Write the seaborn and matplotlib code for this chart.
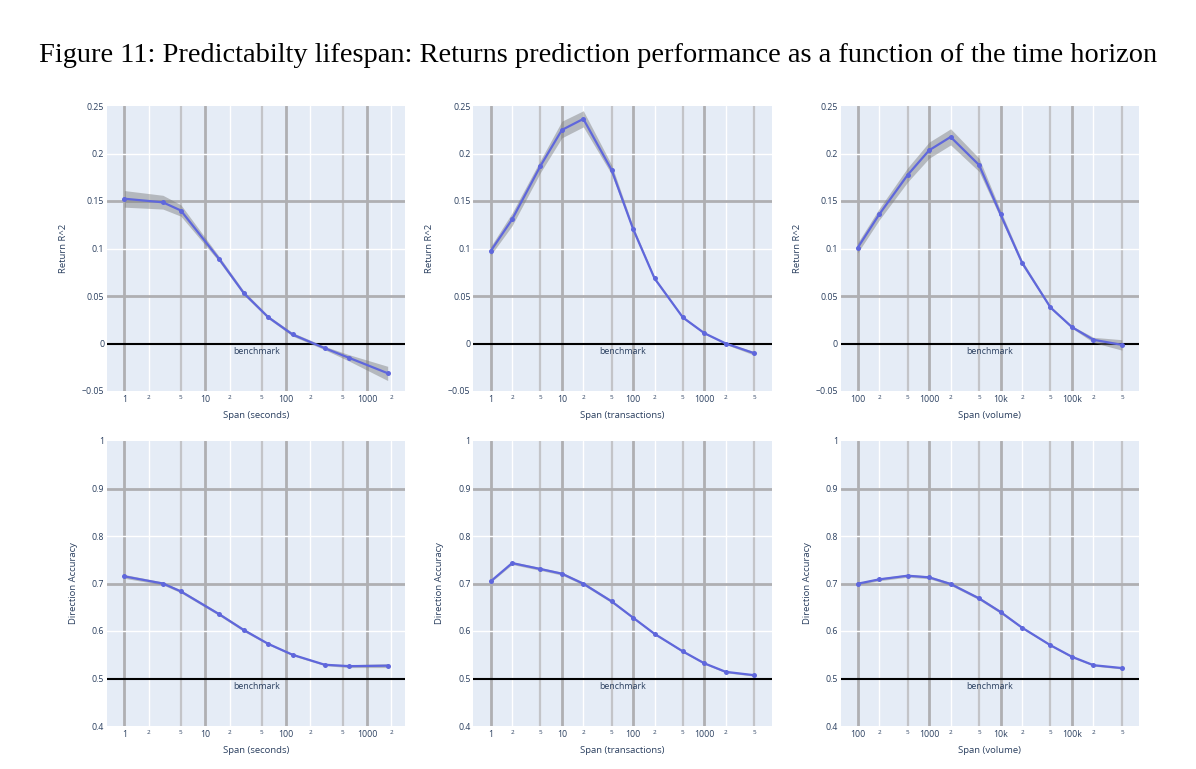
import numpy as np
import pandas as pd
import matplotlib
matplotlib.use("Agg")
import matplotlib.pyplot as plt
import matplotlib.transforms as mtransforms
import seaborn as sns

# ---------------- data ----------------
sec_x = [1, 3, 5, 15, 30, 60, 120, 300, 600, 1800]
sec_r2 = [0.1524, 0.1486, 0.1400, 0.0885, 0.0530, 0.0277, 0.0095, -0.0049, -0.0151, -0.0313]
sec_r2_lo = [0.1435, 0.1415, 0.1340, 0.0858, 0.0510, 0.0262, 0.0078, -0.0066, -0.0185, -0.0390]
sec_r2_hi = [0.1610, 0.1560, 0.1460, 0.0912, 0.0552, 0.0293, 0.0115, -0.0030, -0.0118, -0.0240]
sec_acc = [0.715, 0.700, 0.6834, 0.635, 0.602, 0.573, 0.550, 0.529, 0.526, 0.527]
sec_acc_err = [0.004, 0.003, 0.003, 0.003, 0.003, 0.002, 0.002, 0.002, 0.003, 0.004]

tx_x = [1, 2, 5, 10, 20, 50, 100, 200, 500, 1000, 2000, 5000]
tx_r2 = [0.0973, 0.1307, 0.1869, 0.2248, 0.2364, 0.1826, 0.1205, 0.0685, 0.0274, 0.0109, 0.0, -0.0102]
tx_r2_lo = [0.0930, 0.1240, 0.1800, 0.2165, 0.2280, 0.1780, 0.1180, 0.0668, 0.0262, 0.0100, -0.0010, -0.0122]
tx_r2_hi = [0.1020, 0.1375, 0.1930, 0.2340, 0.2450, 0.1880, 0.1232, 0.0702, 0.0286, 0.0118, 0.0010, -0.0085]
tx_acc = [0.7045, 0.743, 0.7305, 0.7207, 0.6996, 0.6623, 0.628, 0.594, 0.557, 0.532, 0.514, 0.507]
tx_acc_err = [0.002, 0.003, 0.003, 0.003, 0.003, 0.003, 0.002, 0.002, 0.002, 0.002, 0.002, 0.002]

vol_x = [100, 200, 500, 1000, 2000, 5000, 10000, 20000, 50000, 100000, 200000, 500000]
vol_r2 = [0.1008, 0.1359, 0.1774, 0.2034, 0.2174, 0.1879, 0.1359, 0.0850, 0.0379, 0.0172, 0.0039, -0.0014]
vol_r2_lo = [0.0955, 0.1300, 0.1700, 0.1950, 0.2090, 0.1810, 0.1320, 0.0825, 0.0365, 0.0160, 0.0010, -0.0070]
vol_r2_hi = [0.1060, 0.1420, 0.1850, 0.2120, 0.2260, 0.1950, 0.1400, 0.0875, 0.0393, 0.0185, 0.0065, 0.0040]
vol_acc = [0.6996, 0.7087, 0.7164, 0.713, 0.699, 0.6687, 0.640, 0.607, 0.570, 0.5457, 0.528, 0.522]
vol_acc_err = [0.002, 0.003, 0.003, 0.003, 0.003, 0.003, 0.003, 0.002, 0.002, 0.002, 0.002, 0.002]

sec_ticks = [1, 2, 5, 10, 20, 50, 100, 200, 500, 1000, 2000]
sec_ticklabels = ["1", "2", "5", "10", "2", "5", "100", "2", "5", "1000", "2"]
tx_ticks = [1, 2, 5, 10, 20, 50, 100, 200, 500, 1000, 2000, 5000]
tx_ticklabels = ["1", "2", "5", "10", "2", "5", "100", "2", "5", "1000", "2", "5"]
vol_ticks = [100, 200, 500, 1000, 2000, 5000, 10000, 20000, 50000, 100000, 200000, 500000]
vol_ticklabels = ["100", "2", "5", "1000", "2", "5", "10k", "2", "5", "100k", "2", "5"]

r2_ticks = [-0.05, 0, 0.05, 0.1, 0.15, 0.2, 0.25]
r2_ticklabels = ["\u22120.05", "0", "0.05", "0.1", "0.15", "0.2", "0.25"]
r2_graylines = [0.05, 0.15]
acc_ticks = [0.4, 0.5, 0.6, 0.7, 0.8, 0.9, 1.0]
acc_ticklabels = ["0.4", "0.5", "0.6", "0.7", "0.8", "0.9", "1"]
acc_graylines = [0.7, 0.9]

x_titles = ["Span (seconds)", "Span (transactions)", "Span (volume)"]
title = "Figure 11: Predictabilty lifespan: Returns prediction performance as a function of the time horizon"

# ---------------- style ----------------
sns.set_theme(style="white")
plt.rcParams["font.family"] = ["Open Sans", "DejaVu Sans"]

BG = "#E5ECF6"
TXT = "#2a3f5f"
LINE = "#5f67dc"
GRAY_MAJ = "#afafb2"
GRAY_5 = "#c3c4c8"

fig = plt.figure(figsize=(11.96, 7.69), dpi=100)
fig.text(0.5, 1 - 55 / 769, title, ha="center", va="center",
         family="Liberation Serif", fontsize=20.4, color="black")

lefts = [107 / 1196, 473.3 / 1196, 840.7 / 1196]
width = 298.3 / 1196
height = 285 / 769
bottoms = [1 - 391 / 769, 1 - 726 / 769]
xlims = [(0.611, 2972), (0.570, 8810), (57.8, 867000)]

cols = [
    dict(x=sec_x, r2=sec_r2, lo=sec_r2_lo, hi=sec_r2_hi, acc=sec_acc, err=sec_acc_err,
         ticks=sec_ticks, labels=sec_ticklabels),
    dict(x=tx_x, r2=tx_r2, lo=tx_r2_lo, hi=tx_r2_hi, acc=tx_acc, err=tx_acc_err,
         ticks=tx_ticks, labels=tx_ticklabels),
    dict(x=vol_x, r2=vol_r2, lo=vol_r2_lo, hi=vol_r2_hi, acc=vol_acc, err=vol_acc_err,
         ticks=vol_ticks, labels=vol_ticklabels),
]


def style_axes(ax, ticks, labels, yticks, yticklabels, graylines, ylim, xlim, bench,
               ylabel, xlabel):
    ax.set_facecolor(BG)
    for s in ax.spines.values():
        s.set_visible(False)
    ax.set_xscale("log")
    ax.set_xlim(*xlim)
    ax.set_ylim(*ylim)
    ax.set_xticks(ticks)
    ax.set_xticklabels(labels)
    ax.xaxis.set_minor_locator(matplotlib.ticker.NullLocator())
    ax.set_yticks(yticks)
    ax.set_yticklabels(yticklabels)
    ax.tick_params(axis="both", length=0, colors=TXT)
    ax.tick_params(axis="x", pad=3)
    ax.tick_params(axis="y", pad=2, labelsize=6.3)
    for t, lab in zip(ax.get_xticklabels(), labels):
        if lab in ("2", "5"):
            t.set_fontsize(4.6)
        else:
            t.set_fontsize(6.3)
    # vertical grid
    for t, lab in zip(ticks, labels):
        if lab == "2":
            ax.axvline(t, color="white", lw=1.0, zorder=0.5)
        elif lab == "5":
            ax.axvline(t, color=GRAY_5, lw=1.6, zorder=0.5)
        else:
            ax.axvline(t, color=GRAY_MAJ, lw=2.0, zorder=0.5)
    # horizontal grid
    for yv in yticks:
        if abs(yv - bench) < 1e-9 or yv in (ylim[0], ylim[1]):
            continue
        if any(abs(yv - g) < 1e-9 for g in graylines):
            ax.axhline(yv, color=GRAY_MAJ, lw=2.0, zorder=0.6)
        else:
            ax.axhline(yv, color="white", lw=1.0, zorder=0.6)
    ax.axhline(bench, color="black", lw=1.5, zorder=1)
    trans = mtransforms.blended_transform_factory(ax.transAxes, ax.transData)
    ax.annotate("benchmark", xy=(0.5, bench), xycoords=trans, xytext=(0, -2.5),
                textcoords="offset points", ha="center", va="top",
                fontsize=6.3, color=TXT)
    ax.set_ylabel(ylabel, fontsize=6.8, color=TXT, labelpad=10)
    ax.set_xlabel(xlabel, fontsize=6.8, color=TXT, labelpad=5)


for j, c in enumerate(cols):
    # top row: R^2
    ax = fig.add_axes([lefts[j], bottoms[0], width, height])
    df = pd.DataFrame({"span": c["x"], "val": c["r2"]})
    ax.fill_between(c["x"], c["lo"], c["hi"], color="#7a7a7a", alpha=0.45, lw=0, zorder=2)
    sns.lineplot(data=df, x="span", y="val", ax=ax, color=LINE, lw=1.6, marker="o",
                 markersize=3.6, markeredgewidth=0, zorder=3)
    style_axes(ax, c["ticks"], c["labels"], r2_ticks, r2_ticklabels, r2_graylines,
               (-0.05, 0.25), xlims[j], 0, "Return R^2", x_titles[j])

    # bottom row: direction accuracy
    ax = fig.add_axes([lefts[j], bottoms[1], width, height])
    acc = np.array(c["acc"])
    err = np.array(c["err"])
    df = pd.DataFrame({"span": c["x"], "val": acc})
    ax.fill_between(c["x"], acc - err, acc + err, color="#7a7a7a", alpha=0.45, lw=0, zorder=2)
    sns.lineplot(data=df, x="span", y="val", ax=ax, color=LINE, lw=1.6, marker="o",
                 markersize=3.6, markeredgewidth=0, zorder=3)
    style_axes(ax, c["ticks"], c["labels"], acc_ticks, acc_ticklabels, acc_graylines,
               (0.4, 1.0), xlims[j], 0.5, "Direction Accuracy", x_titles[j])

fig.savefig("out.png", dpi=100, facecolor="white")
